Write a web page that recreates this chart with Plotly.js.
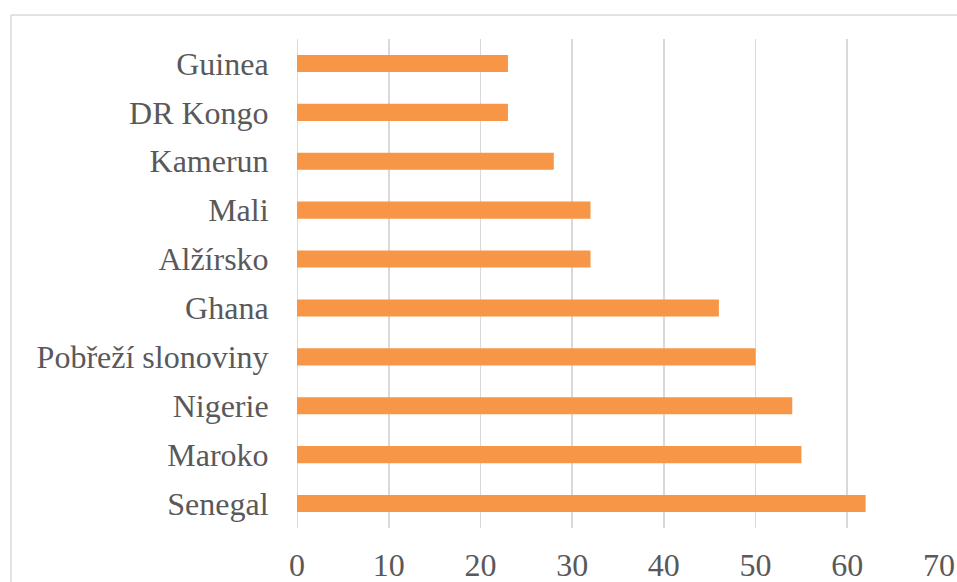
<!DOCTYPE html>
<html>
<head>
<meta charset="utf-8">
<script src="https://cdn.plot.ly/plotly-3.0.1.min.js"></script>
<style>
html, body { margin: 0; padding: 0; background: #ffffff; }
#chart { width: 957px; height: 582px; }
</style>
</head>
<body>
<div id="chart"></div>
<script>
// Data (top to bottom as in the picture)
const countries = ["Guinea", "DR Kongo", "Kamerun", "Mali", "Alžírsko", "Ghana", "Pobřeží slonoviny", "Nigerie", "Maroko", "Senegal"];
const values = [23, 23, 28, 32, 32, 46, 50, 54, 55, 62];
const xTickValues = [0, 10, 20, 30, 40, 50, 60, 70];

const fontFamily = '"Liberation Serif", serif';
const textColor = '#595959';
const gridColor = '#d9d9d9';

const trace = {
  type: 'bar',
  orientation: 'h',
  x: values,
  y: countries,
  width: 0.35,
  marker: { color: '#F79646' },
  hoverinfo: 'x+y'
};

const layout = {
  width: 957,
  height: 582,
  margin: { l: 297, r: 18, t: 39, b: 54, pad: 0 },
  paper_bgcolor: '#ffffff',
  plot_bgcolor: '#ffffff',
  showlegend: false,
  font: { family: fontFamily, size: 32, color: textColor },
  xaxis: {
    range: [0, 70],
    tickvals: xTickValues,
    ticktext: xTickValues.map(String),
    showgrid: true,
    gridcolor: gridColor,
    gridwidth: 1.8,
    zeroline: false,
    showline: false,
    ticks: 'outside',
    ticklen: 9,
    tickcolor: 'rgba(0,0,0,0)',
    fixedrange: true
  },
  yaxis: {
    type: 'category',
    autorange: 'reversed',
    showgrid: false,
    zeroline: false,
    showline: false,
    ticks: 'outside',
    ticklen: 21,
    tickcolor: 'rgba(0,0,0,0)',
    fixedrange: true
  },
  shapes: [
    { type: 'line', xref: 'paper', yref: 'paper', x0: -0.4455, x1: -0.4455, y0: 1.049, y1: -0.3, line: { color: gridColor, width: 1.5 } },
    { type: 'line', xref: 'paper', yref: 'paper', x0: -0.4455, x1: 1.2, y0: 1.049, y1: 1.049, line: { color: gridColor, width: 1.5 } },
    { type: 'line', xref: 'x', yref: 'paper', x0: 0, x1: 0, y0: 0, y1: 1, layer: 'below', line: { color: gridColor, width: 1.8 } }
  ]
};

Plotly.newPlot('chart', [trace], layout, { displayModeBar: false, staticPlot: true });
</script>
</body>
</html>
